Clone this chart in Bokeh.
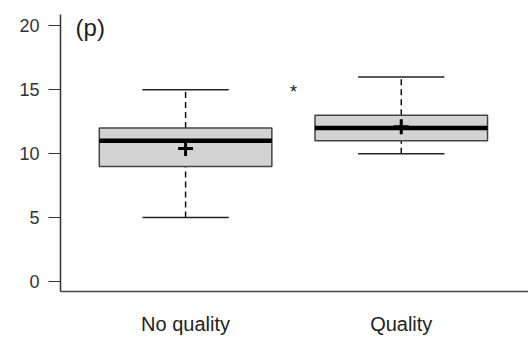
from bokeh.plotting import figure
from bokeh.models import Range1d, FixedTicker, ColumnDataSource
from bokeh.embed import file_html
from bokeh.resources import INLINE
from bokeh.core.properties import value
from bokeh.transform import dodge

categories = ["No quality", "Quality"]
positions = [1, 2]
q1 = [9, 11]
median = [11, 12]
q3 = [12, 13]
lower_whisker = [5, 10]
upper_whisker = [15, 16]
means = [10.4, 12.1]
star_x = [1.5]
star_y = [14.8]

p = figure(width=528, height=343, output_backend="svg", toolbar_location=None,
           x_range=Range1d(0.42, 2.59), y_range=Range1d(-0.8, 20.9),
           min_border_left=60, min_border_right=0, min_border_top=14, min_border_bottom=52)
p.outline_line_color = None
p.xgrid.visible = False
p.ygrid.visible = False
p.background_fill_color = "white"

src = ColumnDataSource(dict(x=positions, q1=q1, med=median, q3=q3, lo=lower_whisker,
                            hi=upper_whisker, mean=means))
bw = 0.8
cw = 0.4
# whiskers
p.segment(x0="x", y0="lo", x1="x", y1="q1", source=src, line_color="#111111", line_width=1.5, line_dash="6 4")
p.segment(x0="x", y0="q3", x1="x", y1="hi", source=src, line_color="#111111", line_width=1.5, line_dash="6 4")
p.segment(x0=dodge("x", -cw / 2), x1=dodge("x", cw / 2), y0="lo", y1="lo", source=src, line_color="#222222", line_width=1.5)
p.segment(x0=dodge("x", -cw / 2), x1=dodge("x", cw / 2), y0="hi", y1="hi", source=src, line_color="#222222", line_width=1.5)
# boxes
p.vbar(x="x", width=bw, bottom="q1", top="q3", source=src, fill_color="#d3d3d3",
       line_color="#444444", line_width=1.5)
# median
p.segment(x0=dodge("x", -bw / 2), x1=dodge("x", bw / 2), y0="med", y1="med", source=src,
          line_color="black", line_width=4.5)
# mean
p.scatter(x="x", y="mean", source=src, marker="cross", size=15, line_color="black", line_width=3)
# star
p.text(x=star_x, y=star_y, text=["*"], text_font=value("Liberation Sans"), text_font_size="18px",
       text_align="center", text_baseline="middle", text_color="#222222")
# panel label
p.text(x=[0.49], y=[19.9], text=["(p)"], text_font=value("Liberation Sans"), text_font_size="24px",
       text_align="left", text_baseline="middle", text_color="#222222")

p.yaxis.ticker = FixedTicker(ticks=[0, 5, 10, 15, 20])
p.yaxis.minor_tick_line_color = None
p.yaxis.major_tick_out = 12
p.yaxis.major_tick_in = 0
p.yaxis.axis_line_color = "#333333"
p.yaxis.major_tick_line_color = "#333333"
p.yaxis.axis_line_width = 1.5
p.yaxis.major_tick_line_width = 1.2
p.yaxis.major_label_text_font = "Liberation Sans"
p.yaxis.major_label_text_font_size = "18px"
p.yaxis.major_label_text_color = "#333333"
p.yaxis.major_label_standoff = 9

p.xaxis.ticker = FixedTicker(ticks=positions)
p.xaxis.major_label_overrides = {pos: c for pos, c in zip(positions, categories)}
p.xaxis.minor_tick_line_color = None
p.xaxis.major_tick_line_color = None
p.xaxis.axis_line_color = "#444444"
p.xaxis.axis_line_width = 1.5
p.xaxis.major_label_text_font = "Liberation Sans"
p.xaxis.major_label_text_font_size = "20px"
p.xaxis.major_label_text_color = "#222222"
p.xaxis.major_label_standoff = 15

open("out.html", "w").write(file_html(p, INLINE))
